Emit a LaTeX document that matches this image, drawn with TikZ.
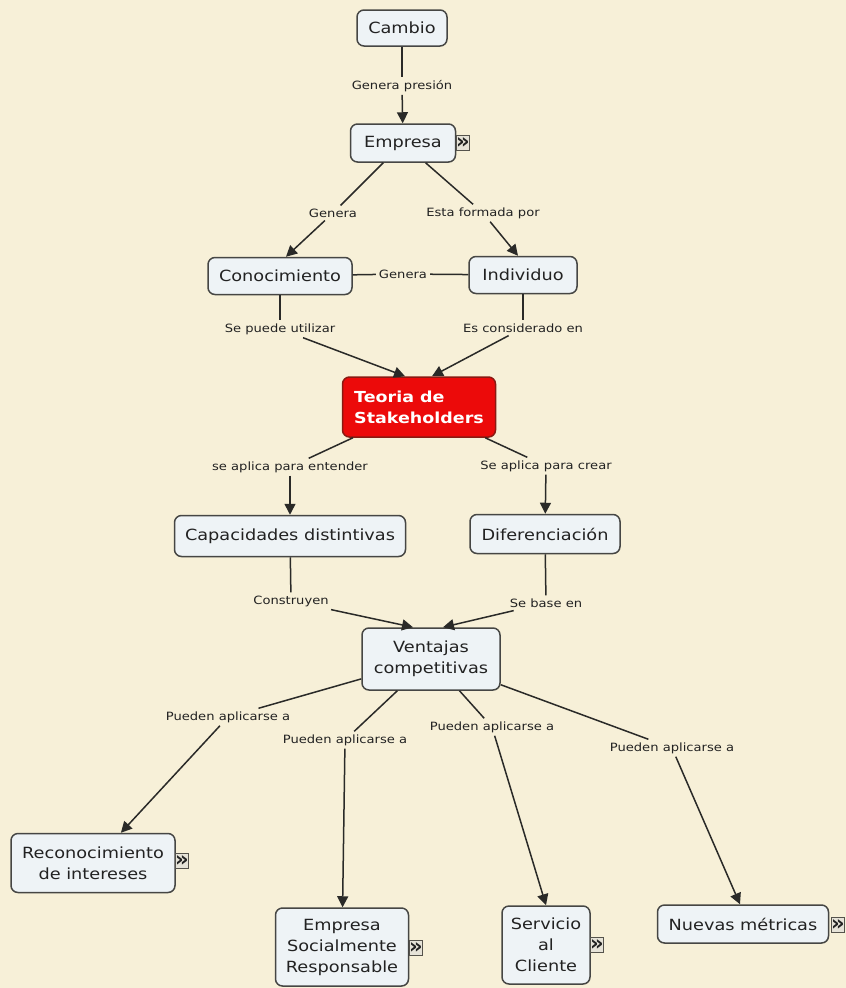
\documentclass[tikz,border=0pt]{standalone}
\usepackage{fontspec}
\usetikzlibrary{arrows.meta}
\setmainfont{DejaVu Sans}
\newfontfamily\mapfamily{DejaVu Sans}[FakeStretch=1.15]
\definecolor{paper}{HTML}{F7F0D8}
\definecolor{boxfill}{HTML}{EEF3F6}
\definecolor{boxedge}{HTML}{464644}
\definecolor{inkdark}{HTML}{222222}
\definecolor{linkink}{HTML}{2A2A28}
\definecolor{hotred}{HTML}{EC0A0A}
\definecolor{hotedge}{HTML}{8A1A12}
\definecolor{iconfill}{HTML}{E6E3D8}
\definecolor{iconedge}{HTML}{55534C}
\tikzset{
  concept/.style={draw=boxedge, line width=1.5pt, rounded corners=7pt,
    fill=boxfill, text=inkdark, align=center, inner sep=0pt,
    font=\mapfamily\fontsize{15.4}{21}\selectfont},
  keyconcept/.style={concept, draw=hotedge, fill=hotred, text=white, align=left,
    font=\mapfamily\bfseries\fontsize{15.2}{21}\selectfont},
  linklabel/.style={text=inkdark, inner sep=3pt,
    font=\mapfamily\fontsize{11.4}{13}\selectfont},
  link/.style={draw=linkink, line width=1.5pt},
  arrowlink/.style={link, -{Triangle[length=11pt,width=11pt]}},
  moreicon/.style={draw=iconedge, fill=iconfill, line width=1pt,
    minimum width=13pt, minimum height=15pt, inner sep=0pt, text=inkdark,
    font=\bfseries\fontsize{21}{21}\selectfont}
}
\begin{document}
\begin{tikzpicture}[x=1pt, y=-1pt]
  % page
  \fill[paper] (0,0) rectangle (846,988);
  \useasboundingbox (0,0) rectangle (846,988);

  % concepts
  \node[concept, minimum width=90pt, minimum height=36pt] (cambio) at (402,28) {Cambio};
  \node[concept, minimum width=105pt, minimum height=38pt] (empresa) at (403,143) {Empresa};
  \node[concept, minimum width=144pt, minimum height=37pt] (conoc) at (280,276) {Conocimiento};
  \node[concept, minimum width=108pt, minimum height=37pt] (indiv) at (523,275) {Individuo};
  \node[keyconcept, minimum width=153pt, minimum height=60pt] (teoria) at (419,407) {Teoria de\\Stakeholders};
  \node[concept, minimum width=231pt, minimum height=41pt] (capac) at (290,536) {Capacidades distintivas};
  \node[concept, minimum width=150pt, minimum height=39pt] (dif) at (545,534) {Diferenciación};
  \node[concept, minimum width=138pt, minimum height=62pt] (vent) at (431,659) {Ventajas\\competitivas};
  \node[concept, minimum width=164pt, minimum height=59pt] (recon) at (93,863) {Reconocimiento\\de intereses};
  \node[concept, minimum width=133pt, minimum height=78pt] (esr) at (342,947) {Empresa\\Socialmente\\Responsable};
  \node[concept, minimum width=88pt, minimum height=78pt] (serv) at (546,945) {Servicio\\al\\Cliente};
  \node[concept, minimum width=171pt, minimum height=38pt] (nuevas) at (743,924) {Nuevas métricas};

  % expand markers beside concepts
  \node[moreicon] (empresa-more) at (463,143) {»};
  \node[moreicon] (recon-more) at (182,861) {»};
  \node[moreicon] (esr-more) at (416,948) {»};
  \node[moreicon] (serv-more) at (597,945) {»};
  \node[moreicon] (nuevas-more) at (838,925) {»};

  % linking phrases
  \node[linklabel] (l-presion) at (402,86) {Genera presión};
  \node[linklabel] (l-genera1) at (333,213) {Genera};
  \node[linklabel] (l-formada) at (483,213) {Esta formada por};
  \node[linklabel] (l-genera2) at (403,274) {Genera};
  \node[linklabel] (l-utilizar) at (280,329) {Se puede utilizar};
  \node[linklabel] (l-considerado) at (523,328) {Es considerado en};
  \node[linklabel] (l-entender) at (290,467) {se aplica para entender};
  \node[linklabel] (l-crear) at (546,466) {Se aplica para crear};
  \node[linklabel] (l-construyen) at (291,601) {Construyen};
  \node[linklabel] (l-base) at (546,603) {Se base en};
  \node[linklabel] (l-pa1) at (228,717) {Pueden aplicarse a};
  \node[linklabel] (l-pa2) at (345,740) {Pueden aplicarse a};
  \node[linklabel] (l-pa3) at (492,727) {Pueden aplicarse a};
  \node[linklabel] (l-pa4) at (672,748) {Pueden aplicarse a};

  % propositions
  \draw[link] (cambio) -- (l-presion);
  \draw[arrowlink] (l-presion) -- (empresa);

  \draw[link] (empresa) -- (l-genera1);
  \draw[arrowlink] (l-genera1) -- ([xshift=6pt]conoc.north);
  \draw[link] (empresa) -- (l-formada);
  \draw[arrowlink] (l-formada) -- ([xshift=-5pt]indiv.north);

  \draw[link] (indiv) -- (l-genera2);
  \draw[link] (l-genera2) -- (conoc);

  \draw[link] (conoc) -- (l-utilizar);
  \draw[arrowlink] (l-utilizar) -- ([xshift=-14pt]teoria.north);
  \draw[link] (indiv) -- (l-considerado);
  \draw[arrowlink] (l-considerado) -- ([xshift=13pt]teoria.north);

  \draw[link] (teoria) -- (l-entender);
  \draw[arrowlink] (l-entender) -- (capac);
  \draw[link] (teoria) -- (l-crear);
  \draw[arrowlink] (l-crear) -- (dif);

  \draw[link] (capac) -- (l-construyen);
  \draw[arrowlink] (l-construyen) -- ([xshift=-18pt]vent.north);
  \draw[link] (dif) -- (l-base);
  \draw[arrowlink] (l-base) -- ([xshift=12pt]vent.north);

  \draw[link] (vent) -- (l-pa1);
  \draw[arrowlink] (l-pa1) -- (recon);
  \draw[link] (vent) -- (l-pa2);
  \draw[arrowlink] (l-pa2) -- (esr);
  \draw[link] (vent) -- (l-pa3);
  \draw[arrowlink] (l-pa3) -- (serv.north);
  \draw[link] (vent) -- (l-pa4);
  \draw[arrowlink] (l-pa4) -- ([xshift=-3pt]nuevas.north);
\end{tikzpicture}
\end{document}
